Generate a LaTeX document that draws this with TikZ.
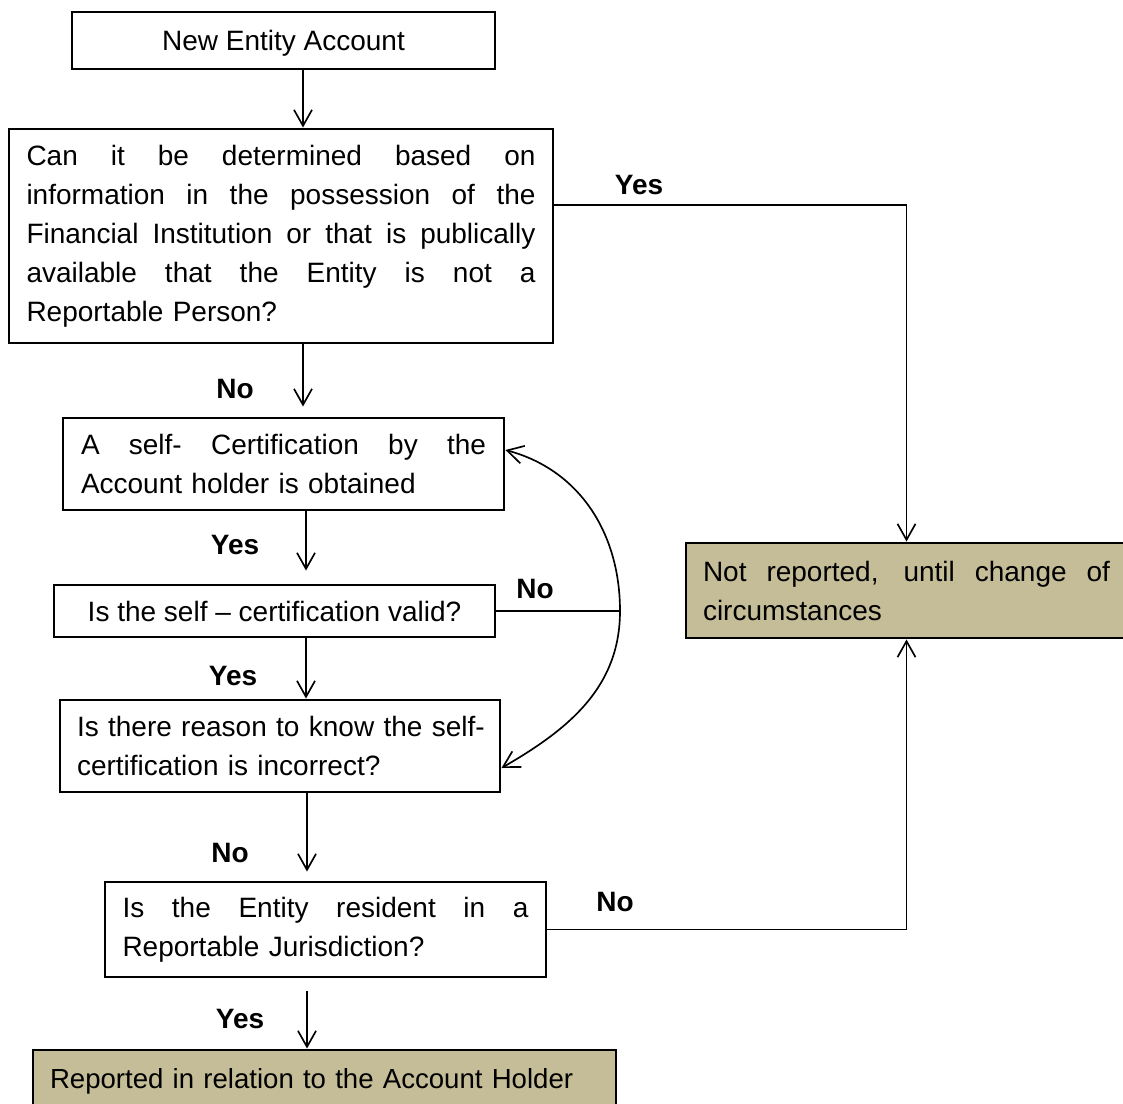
\documentclass[tikz,border=0pt]{standalone}
\usepackage{fontspec}
\setmainfont{Liberation Sans}
\usetikzlibrary{arrows.meta,calc}
\definecolor{tanfill}{HTML}{C4BD97}
\newcommand\jl[1]{\noindent\hbox to\hsize{\spaceskip=0pt plus 1fil\relax#1}\par}
\newcommand\rl[1]{\noindent\hbox{#1}\par}
\begin{document}
\begin{tikzpicture}[x=0.75pt,y=-0.75pt,
  every node/.style={font=\fontsize{21}{29.25}\selectfont},
  box/.style={draw, line width=2.2pt, inner sep=0pt, fill=white},
  endbox/.style={box, fill=tanfill},
  oneline/.style={text height=15pt, text depth=0pt},
  lbl/.style={font=\fontsize{21}{29.25}\selectfont\bfseries, inner sep=0pt},
  arr/.style={line width=1.25pt, -{Straight Barb[length=12pt,width=13.5pt,line width=1.25pt]}},
  ln/.style={line width=1.25pt}]
\useasboundingbox (0,0) rectangle (1123,1103);
\clip (0,0) rectangle (1123,1103);

\node[box, oneline, minimum width=317.25pt, minimum height=42.75pt] (b1) at (283.5,40.5) {New Entity Account};
\node[box, minimum width=408pt, minimum height=160.5pt, text width=381.75pt] (b2) at (281,236)
  {\jl{Can it be determined based on}\jl{information in the possession of the}\jl{Financial Institution or that is publically}\jl{available that the Entity is not a}\rl{Reportable Person?}};
\node[box, minimum width=330.75pt, minimum height=69pt, text width=303.75pt] (b3) at (283.5,464)
  {\jl{A self- Certification by the}\rl{Account holder is obtained}};
\node[box, oneline, minimum width=330.75pt, minimum height=39pt] (b4) at (274.5,611) {Is the self – certification valid?};
\node[box, minimum width=330pt, minimum height=69pt, text width=304.5pt] (b5) at (280,746)
  {\rl{Is there reason to know the self-}\rl{certification is incorrect?}};
\node[box, minimum width=330.75pt, minimum height=71.25pt, text width=304.5pt] (b6) at (325.5,929.5)
  {\jl{Is the Entity resident in a}\rl{Reportable Jurisdiction?}};
\node[endbox, minimum width=330.75pt, minimum height=71.25pt, text width=305.25pt] (nr) at (906.5,590.5)
  {\jl{Not reported, until change of}\rl{circumstances}};
\node[endbox, oneline, minimum width=437.25pt, minimum height=42pt, text width=411.75pt,
  font=\fontsize{20.7}{29.25}\selectfont] (rep) at (324.5,1078)
  {\rl{Reported in relation to the Account Holder}};

\coordinate (xa) at (303,0);
\coordinate (xb) at (306,0);
\coordinate (xc) at (307,0);
\coordinate (cr) at (620,611);

\draw[arr] (b1.south -| xa) -- (b2.north -| xa);
\draw[arr, shorten >=7.5pt] (b2.south -| xa) -- (b3.north -| xa);
\draw[arr, shorten >=9.75pt] (b3.south -| xb) -- (b4.north -| xb);
\draw[arr] (b4.south -| xb) -- (b5.north -| xb);
\draw[arr, shorten >=6.75pt] (b5.south -| xc) -- (b6.north -| xc);
\draw[arr, shorten <=9.75pt] (b6.south -| xc) -- (rep.north -| xc);

\draw[arr] ($(b2.east)+(0,-31)$) -| (nr.north);
\draw[arr] (b6.east) -| (nr.south);
\draw[ln] (b4.east) -- (cr);
\draw[arr] (cr) to[out=90,in=-15] ($(b3.east)+(0,-14)$);
\draw[arr] (cr) to[out=-90,in=30] ($(b5.east)+(0,22)$);

\node[lbl] (l1) at (639,185) {Yes};
\node[lbl] (l2) at (235,389) {No};
\node[lbl] (l3) at (235,545) {Yes};
\node[lbl] (l4) at (535,589) {No};
\node[lbl] (l5) at (233,676) {Yes};
\node[lbl] (l6) at (230,853) {No};
\node[lbl] (l7) at (615,902) {No};
\node[lbl] (l8) at (240,1019) {Yes};
\end{tikzpicture}
\end{document}
